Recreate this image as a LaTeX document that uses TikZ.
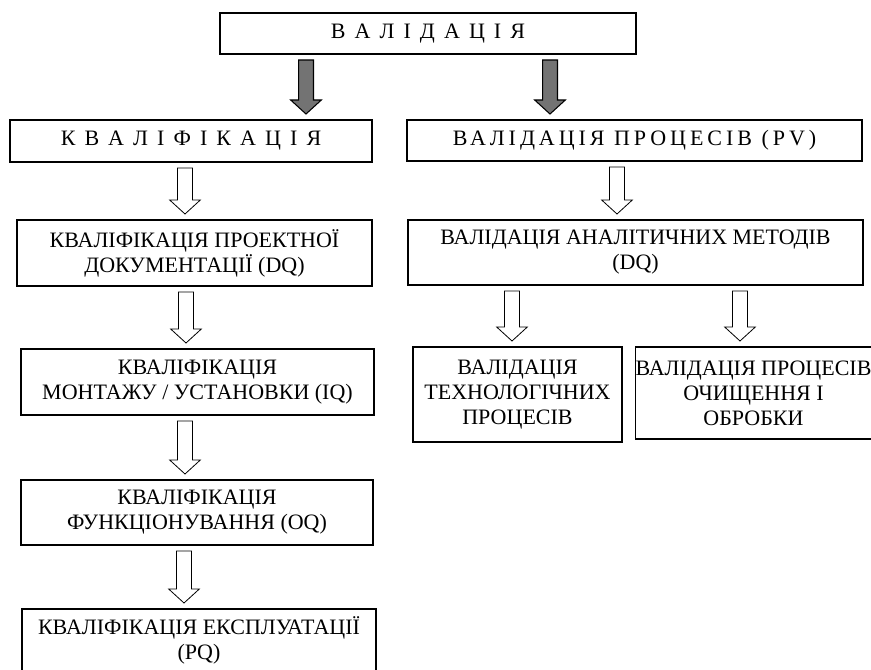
\documentclass[tikz,border=0pt]{standalone}
\usepackage{fontspec}
\setmainfont{Liberation Serif}
\newfontfamily\widefont[LetterSpace=18]{Liberation Serif}
\newfontfamily\gapfont[WordSpace=1.65]{Liberation Serif}
\usetikzlibrary{calc}

\tikzset{
  box/.style={draw, line width=1pt, inner sep=0pt, align=center,
    font=\fontsize{16.5}{18.75}\selectfont},
  garrow/.style={draw=black, line width=0.8pt, fill=black!55},
  warrow/.style={draw=black, line width=0.6pt, fill=white},
}
% block arrow: [style]{x}{from node}{to node}
\newcommand\blockarrow[4][warrow]{%
  \draw[#1] let \p3=(#2,0), \p1=(#3.south), \p2=(#4.north) in
    (\x3-5.6pt,\y1-4pt) -- (\x3+5.6pt,\y1-4pt) -- (\x3+5.6pt,\y2+14.5pt)
    -- (\x3+11.5pt,\y2+14.5pt) -- (\x3,\y2+4pt) -- (\x3-11.5pt,\y2+14.5pt)
    -- (\x3-5.6pt,\y2+14.5pt) -- cycle;}

\begin{document}
\begin{tikzpicture}[x=0.75pt, y=-0.75pt]
  \useasboundingbox (0,0) rectangle (871,670);
  \clip (0,0) rectangle (871,670);

  \node[box, minimum width=312pt, minimum height=30.75pt] (val) at (428,33.5) {\gapfont В А Л І Д А Ц І Я};

  \node[box, minimum width=271.5pt, minimum height=31.5pt] (kv) at (191,141) {\gapfont К В А Л І Ф І К А Ц І Я};
  \node[box, minimum width=341.25pt, minimum height=30.75pt] (pv) at (634.5,140.5) {\widefont ВАЛІДАЦІЯ ПРОЦЕСІВ (PV)};

  \node[box, minimum width=266.25pt, minimum height=49.5pt] (dq) at (194.5,253) {КВАЛІФІКАЦІЯ ПРОЕКТНОЇ\\ДОКУМЕНТАЦІЇ (DQ)};
  \node[box, minimum width=264.75pt, minimum height=49.5pt] (iq) at (197.5,382) {КВАЛІФІКАЦІЯ\\МОНТАЖУ / УСТАНОВКИ (IQ)};
  \node[box, minimum width=264pt, minimum height=48.75pt] (oq) at (197,512.5) {КВАЛІФІКАЦІЯ\\ФУНКЦІОНУВАННЯ (OQ)};
  \node[box, minimum width=265.5pt, minimum height=47.25pt] (pq) at (199,640.5) {КВАЛІФІКАЦІЯ ЕКСПЛУАТАЦІЇ\\(PQ)};

  \node[box, minimum width=341.25pt, minimum height=48.75pt] (am) at (635.5,252.5) {ВАЛІДАЦІЯ АНАЛІТИЧНИХ МЕТОДІВ\\(DQ)};
  \node[box, minimum width=156.75pt, minimum height=71.25pt] (tp) at (517.5,394.5) {ВАЛІДАЦІЯ\\ТЕХНОЛОГІЧНИХ\\ПРОЦЕСІВ};
  \node[box, minimum width=174.75pt, minimum height=69pt] (oo) at (753.5,393) {ВАЛІДАЦІЯ ПРОЦЕСІВ\\ОЧИЩЕННЯ І\\ОБРОБКИ};

  % arrows
  \blockarrow[garrow]{306}{val}{kv}
  \blockarrow[garrow]{550}{val}{pv}

  \blockarrow{185}{kv}{dq}
  \blockarrow{186}{dq}{iq}
  \blockarrow{185}{iq}{oq}
  \blockarrow{184}{oq}{pq}

  \blockarrow{617}{pv}{am}
  \blockarrow{512}{am}{tp}
  \blockarrow{740}{am}{oo}
\end{tikzpicture}
\end{document}
